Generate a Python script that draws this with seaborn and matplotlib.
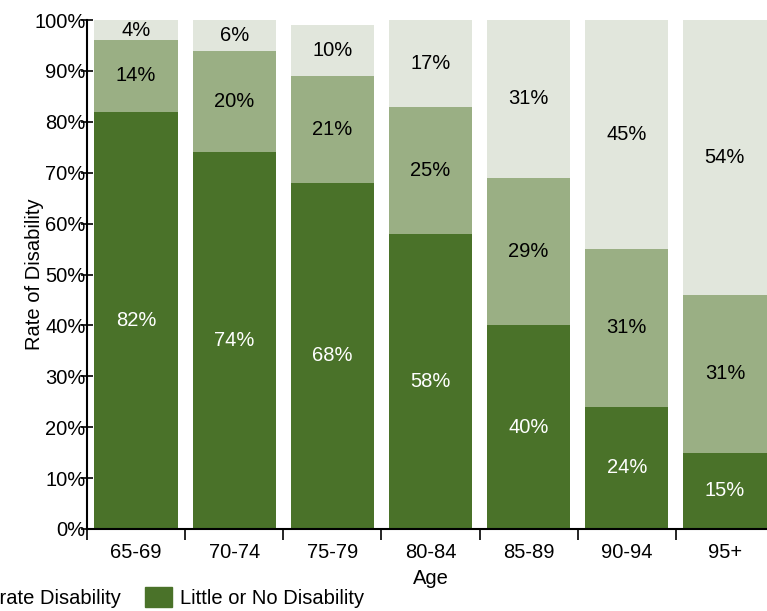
import seaborn as sns
import matplotlib.pyplot as plt
import pandas as pd
import numpy as np
from matplotlib.patches import Patch
from matplotlib.ticker import MultipleLocator, FixedLocator

# ---- data ----
ages = ['65-69', '70-74', '75-79', '80-84', '85-89', '90-94', '95+']
little = [82, 74, 68, 58, 40, 24, 15]
moderate = [14, 20, 21, 25, 29, 31, 31]
severe = [4, 6, 10, 17, 31, 45, 54]
series_names = ['Severe Disability', 'Moderate Disability', 'Little or No Disability']

c_dark = '#4a7229'
c_mid = '#9aaf84'
c_light = '#e1e6dc'

sns.set_style('white')
plt.rcParams['font.family'] = ['Liberation Sans', 'DejaVu Sans']
plt.rcParams['text.color'] = 'black'
plt.rcParams['axes.labelcolor'] = 'black'
plt.rcParams['xtick.color'] = 'black'
plt.rcParams['ytick.color'] = 'black'

df = pd.DataFrame({'age': ages, 'little': little, 'moderate': moderate, 'severe': severe})
df['lm'] = df['little'] + df['moderate']
df['total'] = df['lm'] + df['severe']

fig = plt.figure(figsize=(7.67, 6.11), dpi=100)
ax = fig.add_axes([87/767, 82/611, 687/767, 509/611])

# stacked bars drawn as overlapping cumulative layers
for col, c in [('total', c_light), ('lm', c_mid), ('little', c_dark)]:
    sns.barplot(data=df, x='age', y=col, color=c, saturation=1, width=0.85,
                linewidth=0, ax=ax)

fs = 14.5
for i in range(len(ages)):
    ax.text(i, little[i] / 2, f"{little[i]}%", ha='center', va='center', color='white', fontsize=fs)
    ax.text(i, little[i] + moderate[i] / 2, f"{moderate[i]}%", ha='center', va='center', color='black', fontsize=fs)
    ax.text(i, df['lm'][i] + severe[i] / 2, f"{severe[i]}%", ha='center', va='center', color='black', fontsize=fs)

ax.set_xlim(-0.5, 6.5)
ax.set_ylim(0, 100)
ax.yaxis.set_major_locator(MultipleLocator(10))
ax.set_yticklabels([f"{int(v)}%" for v in ax.get_yticks()])
ax.tick_params(axis='y', direction='inout', length=8, width=1.2, pad=-3, labelsize=fs, left=True)
ax.xaxis.set_minor_locator(FixedLocator(np.arange(-0.5, 7, 1)))
ax.tick_params(axis='x', which='major', length=0, pad=10, labelsize=fs)
ax.tick_params(axis='x', which='minor', direction='out', length=8, width=1.2, bottom=True)

for s in ['top', 'right']:
    ax.spines[s].set_visible(False)
for s in ['left', 'bottom']:
    ax.spines[s].set_color('black')
    ax.spines[s].set_linewidth(1.5)

ax.set_xlabel('Age', fontsize=fs)
ax.xaxis.set_label_coords(0.5, -40/509)
ax.set_ylabel('Rate of Disability', fontsize=fs)
ax.yaxis.set_label_coords(-43/687, 0.5)

handles = [Patch(color=c_light), Patch(color=c_mid), Patch(color=c_dark)]
fig.legend(handles, series_names, ncol=3, loc='lower right', bbox_to_anchor=(372/767, -0.008),
           frameon=False, fontsize=fs, handlelength=1.35, handleheight=1.2,
           handletextpad=0.4, columnspacing=1.2, borderaxespad=0)

fig.savefig('out.png', dpi=100)
